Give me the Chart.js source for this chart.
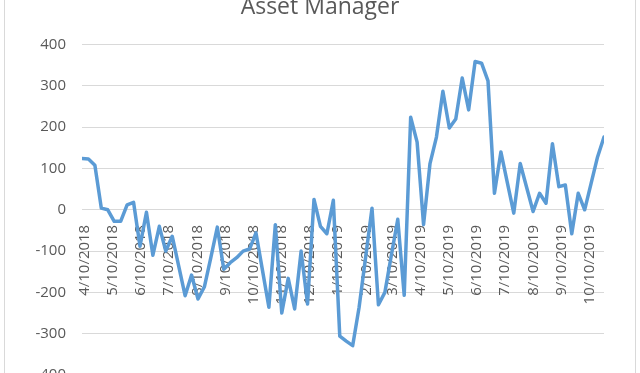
<!DOCTYPE html>
<html>
<head>
<meta charset="utf-8">
<script src="https://cdn.jsdelivr.net/npm/chart.js@4.4.1/dist/chart.umd.min.js"></script>
<style>
  html, body { margin: 0; padding: 0; background: #fff; width: 640px; height: 373px; overflow: hidden; }
  #moldura { position: absolute; left: 4px; top: -40px; width: 630px; height: 460px; border: 1px solid #d9d9d9; }
  #grafico { position: absolute; left: 0; top: -20px; }
</style>
</head>
<body>
<div id="moldura"></div>
<canvas id="grafico" width="640" height="420"></canvas>
<script>
// semanas (datas das observacoes)
const semanas = [
  '2018-04-10', '2018-04-17', '2018-04-24', '2018-05-01', '2018-05-08', '2018-05-15', '2018-05-22', '2018-05-29',
  '2018-06-05', '2018-06-12', '2018-06-19', '2018-06-26', '2018-07-03', '2018-07-10', '2018-07-17', '2018-07-24',
  '2018-07-31', '2018-08-07', '2018-08-14', '2018-08-21', '2018-08-28', '2018-09-04', '2018-09-11', '2018-09-18',
  '2018-09-25', '2018-10-02', '2018-10-09', '2018-10-16', '2018-10-23', '2018-10-30', '2018-11-06', '2018-11-13',
  '2018-11-20', '2018-11-27', '2018-12-04', '2018-12-11', '2018-12-18', '2018-12-25', '2019-01-01', '2019-01-08',
  '2019-01-15', '2019-01-22', '2019-01-29', '2019-02-05', '2019-02-12', '2019-02-19', '2019-02-26', '2019-03-05',
  '2019-03-12', '2019-03-19', '2019-03-26', '2019-04-02', '2019-04-09', '2019-04-16', '2019-04-23', '2019-04-30',
  '2019-05-07', '2019-05-14', '2019-05-21', '2019-05-28', '2019-06-04', '2019-06-11', '2019-06-18', '2019-06-25',
  '2019-07-02', '2019-07-09', '2019-07-16', '2019-07-23', '2019-07-30', '2019-08-06', '2019-08-13', '2019-08-20',
  '2019-08-27', '2019-09-03', '2019-09-10', '2019-09-17', '2019-09-24', '2019-10-01', '2019-10-08', '2019-10-15',
  '2019-10-22', '2019-10-29'
];

// valores
const valores = [
  124, 123, 108, 4, 0, -28, -28, 12, 18, -88, -6, -110, -40, -100, -64, -136,
  -208, -158, -216, -186, -115, -42, -144, -128, -116, -100, -95, -56, -146, -236, -36, -250,
  -166, -240, -100, -228, 25, -40, -58, 23, -306, -318, -329, -236, -116, 4, -230, -200,
  -110, -23, -207, 224, 164, -36, 112, 176, 287, 198, 220, 319, 242, 359, 355, 312,
  40, 140, 66, -8, 112, 54, -4, 40, 16, 160, 56, 60, -58, 40, 0, 64,
  128, 176
];

// rotulos do eixo x (dia 10 de cada mes)
const rotulosMeses = [
  '4/10/2018', '5/10/2018', '6/10/2018', '7/10/2018', '8/10/2018', '9/10/2018', '10/10/2018',
  '11/10/2018', '12/10/2018', '1/10/2019', '2/10/2019', '3/10/2019', '4/10/2019', '5/10/2019',
  '6/10/2019', '7/10/2019', '8/10/2019', '9/10/2019', '10/10/2019'
];

const ticksY = [-400, -300, -200, -100, 0, 100, 200, 300, 400];

const corTexto = '#595959';
const corGrade = '#d9d9d9';

function paraMs(rotulo) {
  const [m, d, a] = rotulo.split('/').map(Number);
  return Date.UTC(a, m - 1, d);
}

const pontos = semanas.map((s, i) => ({ x: Date.parse(s), y: valores[i] }));

const ctx = document.getElementById('grafico').getContext('2d');

new Chart(ctx, {
  type: 'line',
  data: {
    datasets: [{
      label: 'Asset Manager',
      data: pontos,
      borderColor: '#5b9bd5',
      borderWidth: 3.5,
      pointRadius: 0,
      tension: 0,
      borderJoinStyle: 'round',
      borderCapStyle: 'round',
      fill: false
    }]
  },
  options: {
    responsive: false,
    animation: false,
    layout: { padding: { left: 0, right: 0, top: 0, bottom: 23 } },
    plugins: {
      legend: { display: false },
      tooltip: { enabled: false },
      title: {
        display: true,
        text: 'Asset Manager',
        color: corTexto,
        font: { family: 'Open Sans', size: 23, weight: 'normal' },
        padding: { top: 14, bottom: 23 }
      }
    },
    scales: {
      x: {
        type: 'linear',
        position: { y: 0 },
        min: Date.parse(semanas[0]),
        max: Date.parse(semanas[semanas.length - 1]),
        grid: { display: false },
        border: { display: false },
        afterBuildTicks: (scale) => {
          scale.ticks = rotulosMeses.map(r => ({ value: paraMs(r) }));
        },
        afterFit: (scale) => {
          scale.height = 0;
          scale.paddingRight = 36; // espaco a direita da area do grafico
        },
        ticks: {
          autoSkip: false,
          minRotation: 90,
          maxRotation: 90,
          padding: 7,
          labelOffset: 3,
          color: corTexto,
          font: { family: 'Open Sans', size: 15 },
          callback: (v, i) => rotulosMeses[i]
        }
      },
      y: {
        min: -400,
        max: 400,
        afterBuildTicks: (scale) => {
          scale.ticks = ticksY.map(v => ({ value: v }));
        },
        afterFit: (scale) => { scale.width = 82; },
        grid: { color: corGrade, lineWidth: 1, drawTicks: false },
        border: { display: false },
        ticks: {
          padding: 16,
          color: corTexto,
          font: { family: 'Open Sans', size: 15 }
        }
      }
    }
  }
});
</script>
</body>
</html>
